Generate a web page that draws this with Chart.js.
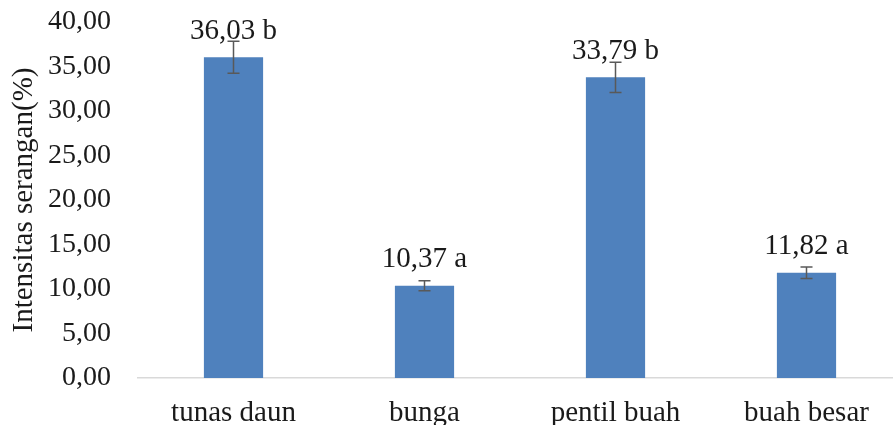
<!DOCTYPE html>
<html>
<head>
<meta charset="utf-8">
<script src="https://cdn.jsdelivr.net/npm/chart.js@4"></script>
<style>
html,body{margin:0;padding:0;background:#fff;overflow:hidden;}
#wrap{width:902px;height:425px;}
</style>
</head>
<body>
<div id="wrap"><canvas id="c" width="902" height="425"></canvas></div>
<script>
const categories = ['tunas daun', 'bunga', 'pentil buah', 'buah besar'];
const values = [36.03, 10.37, 33.79, 11.82];
const errors = [1.8, 0.56, 1.7, 0.65];
const letters = ['b', 'a', 'b', 'a'];
const yTicks = [0, 5, 10, 15, 20, 25, 30, 35, 40];

const FONT = "'Liberation Serif', 'Times New Roman', serif";
const fmt = v => v.toFixed(2).replace('.', ',');

const overlay = {
  id: 'overlay',
  afterDatasetsDraw(chart) {
    const ctx = chart.ctx;
    const meta = chart.getDatasetMeta(0);
    const ys = chart.scales.y;
    ctx.save();
    meta.data.forEach((bar, i) => {
      const x = bar.x;
      const top = ys.getPixelForValue(values[i] + errors[i]);
      const bot = ys.getPixelForValue(values[i] - errors[i]);
      ctx.strokeStyle = '#595959';
      ctx.lineWidth = 1.5;
      ctx.beginPath();
      ctx.moveTo(x, top); ctx.lineTo(x, bot);
      ctx.moveTo(x - 6, top); ctx.lineTo(x + 6, top);
      ctx.moveTo(x - 6, bot); ctx.lineTo(x + 6, bot);
      ctx.stroke();
      ctx.fillStyle = '#1a1a1a';
      ctx.font = '29px ' + FONT;
      ctx.textAlign = 'center';
      ctx.textBaseline = 'middle';
      ctx.fillText(fmt(values[i]) + ' ' + letters[i], x, bar.y - 26);
    });
    ctx.restore();
  }
};

new Chart(document.getElementById('c'), {
  type: 'bar',
  data: {
    labels: categories,
    datasets: [{
      data: values,
      backgroundColor: '#4F81BD',
      borderWidth: 0,
      barPercentage: 0.31,
      categoryPercentage: 1
    }]
  },
  options: {
    responsive: false,
    animation: false,
    events: [],
    layout: { padding: { top: 22, left: 0, right: 0, bottom: 0 } },
    plugins: { legend: { display: false }, tooltip: { enabled: false } },
    scales: {
      x: {
        grid: { display: false, drawTicks: false },
        border: { display: true, color: '#d9d9d9', width: 1.5 },
        ticks: { color: '#1a1a1a', font: { family: FONT, size: 29 }, padding: 18, maxRotation: 0, autoSkip: false },
        afterFit(s) { s.height = 47; s.paddingLeft = 0; s.paddingRight = 0; }
      },
      y: {
        min: 0, max: 40,
        afterBuildTicks(s) { s.ticks = yTicks.map(v => ({ value: v })); },
        grid: { display: false, drawTicks: false },
        border: { display: false },
        ticks: { color: '#1a1a1a', font: { family: FONT, size: 28 }, padding: 27, callback: v => fmt(v) },
        title: { display: true, text: 'Intensitas serangan(%)', color: '#1a1a1a', font: { family: FONT, size: 29 }, padding: { top: 7, bottom: 0 } },
        afterFit(s) { s.width = 138; s.paddingTop = 0; s.paddingBottom = 0; }
      }
    }
  },
  plugins: [overlay]
});
</script>
</body>
</html>
